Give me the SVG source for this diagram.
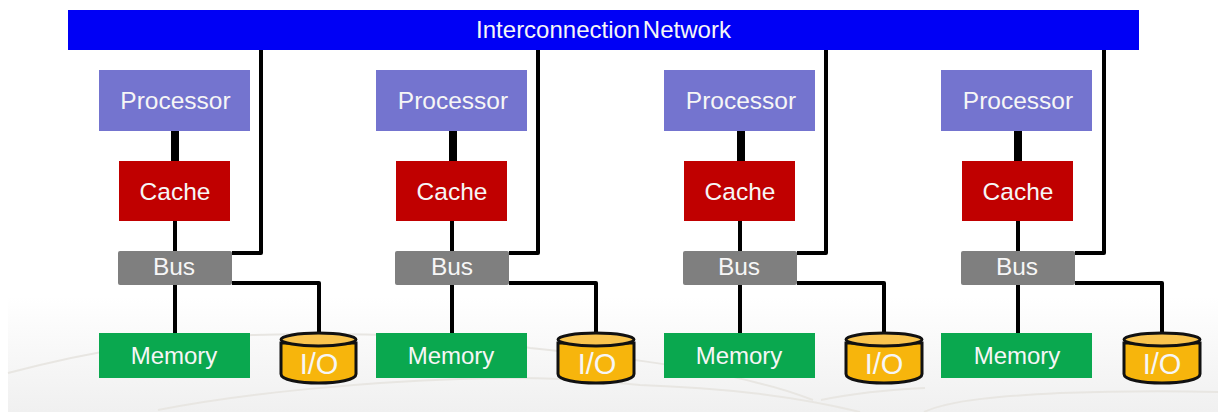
<svg xmlns="http://www.w3.org/2000/svg" width="1218" height="412" viewBox="0 0 1218 412">
<style>
text{font-family:"Liberation Sans",Arial,sans-serif;fill:#f6f6f6;text-anchor:middle;font-size:24.500px}
.mt{font-size:24px}.it{font-size:29px}
.p{fill:#7474cf}.c{fill:#c00000}.b{fill:#7f7f7f}.m{fill:#0aa84f}
.w{fill:none;stroke:#000;stroke-width:4;stroke-linejoin:round}
.t{fill:none;stroke:#000;stroke-width:8}
.io{fill:#f7b50c;stroke:#111;stroke-width:3}.top{fill:#f9c44e;stroke:#111;stroke-width:3}
.sw{fill:none;stroke:#e8e6e2;stroke-width:2}
</style>
<defs><linearGradient id="bg" x1="0" y1="0" x2="0" y2="1"><stop offset="0" stop-color="#fff"/><stop offset=".72" stop-color="#fff"/><stop offset="1" stop-color="#f0f0f0"/></linearGradient></defs>
<rect id="background" width="1218" height="412" fill="#fff"/>
<rect x="8" width="1210" height="412" fill="url(#bg)"/>
<path class="sw" d="M8 373C50 362 150 338 253 335C350 332 470 335 530 348C600 355 690 365 758 383C780 388 800 395 813 400"/>
<path class="sw" d="M158 410C250 392 370 382 460 379C540 376 590 380 640 385C720 388 790 395 860 412"/>
<path class="sw" d="M924 412C950 400 1000 396 1060 393C1120 391 1170 391 1218 392"/>
<path class="sw" d="M821 400C850 394 880 390 925 388"/>
<g id="connectors">
<path class="t" d="M175 131V161M453 131V161M741 131V161M1018 131V161"/>
<path class="w" d="M175 221V251M175 285V333M232 253H261V50M232 283H319V333"/>
<path class="w" d="M452 221V251M452 285V333M509 253H538V50M509 283H596V333"/>
<path class="w" d="M740 221V251M740 285V333M797 253H826V50M797 283H884V333"/>
<path class="w" d="M1018 221V251M1018 285V333M1075 253H1104V50M1075 283H1162V333"/>
</g>
<g id="network"><rect x="68" y="10" width="1071" height="40" fill="#0000f5"/><text x="603.500" y="37.500" style="font-size:24px;word-spacing:-4px">Interconnection Network</text></g>
<g id="processor1"><rect class="p" x="99" y="70" width="151" height="61"/><text x="175.500" y="109">Processor</text></g>
<g id="cache1"><rect class="c" x="119" y="161" width="111" height="60"/><text x="175" y="200">Cache</text></g>
<g id="bus1"><rect class="b" x="118" y="251" width="114" height="34" rx="2"/><text x="174" y="275">Bus</text></g>
<g id="memory1"><rect class="m" x="99" y="333" width="151" height="45"/><text class="mt" x="174" y="364">Memory</text></g>
<g id="io1"><path class="io" d="M281 343V374C281 386 356 386 356 374V343Z"/><ellipse class="top" cx="318.500" cy="339.500" rx="37.500" ry="6.500"/><text class="it" x="319" y="374">I/O</text></g>
<g id="processor2"><rect class="p" x="376" y="70" width="151" height="61"/><text x="453" y="109">Processor</text></g>
<g id="cache2"><rect class="c" x="396" y="161" width="111" height="60"/><text x="452" y="200">Cache</text></g>
<g id="bus2"><rect class="b" x="395" y="251" width="114" height="34" rx="2"/><text x="452" y="275">Bus</text></g>
<g id="memory2"><rect class="m" x="376" y="333" width="151" height="45"/><text class="mt" x="451" y="364">Memory</text></g>
<g id="io2"><path class="io" d="M558 343V374C558 386 634 386 634 374V343Z"/><ellipse class="top" cx="596" cy="339.500" rx="38" ry="6.500"/><text class="it" x="597" y="374">I/O</text></g>
<g id="processor3"><rect class="p" x="664" y="70" width="151" height="61"/><text x="741" y="109">Processor</text></g>
<g id="cache3"><rect class="c" x="684" y="161" width="111" height="60"/><text x="740" y="200">Cache</text></g>
<g id="bus3"><rect class="b" x="683" y="251" width="114" height="34" rx="2"/><text x="739" y="275">Bus</text></g>
<g id="memory3"><rect class="m" x="664" y="333" width="151" height="45"/><text class="mt" x="739" y="364">Memory</text></g>
<g id="io3"><path class="io" d="M846 343V374C846 386 922 386 922 374V343Z"/><ellipse class="top" cx="884" cy="339.500" rx="38" ry="6.500"/><text class="it" x="884" y="374">I/O</text></g>
<g id="processor4"><rect class="p" x="941" y="70" width="151" height="61"/><text x="1018" y="109">Processor</text></g>
<g id="cache4"><rect class="c" x="962" y="161" width="111" height="60"/><text x="1018" y="200">Cache</text></g>
<g id="bus4"><rect class="b" x="961" y="251" width="114" height="34" rx="2"/><text x="1017" y="275">Bus</text></g>
<g id="memory4"><rect class="m" x="941" y="333" width="151" height="45"/><text class="mt" x="1017" y="364">Memory</text></g>
<g id="io4"><path class="io" d="M1124 343V374C1124 386 1200 386 1200 374V343Z"/><ellipse class="top" cx="1162" cy="339.500" rx="38" ry="6.500"/><text class="it" x="1162" y="374">I/O</text></g>
</svg>
